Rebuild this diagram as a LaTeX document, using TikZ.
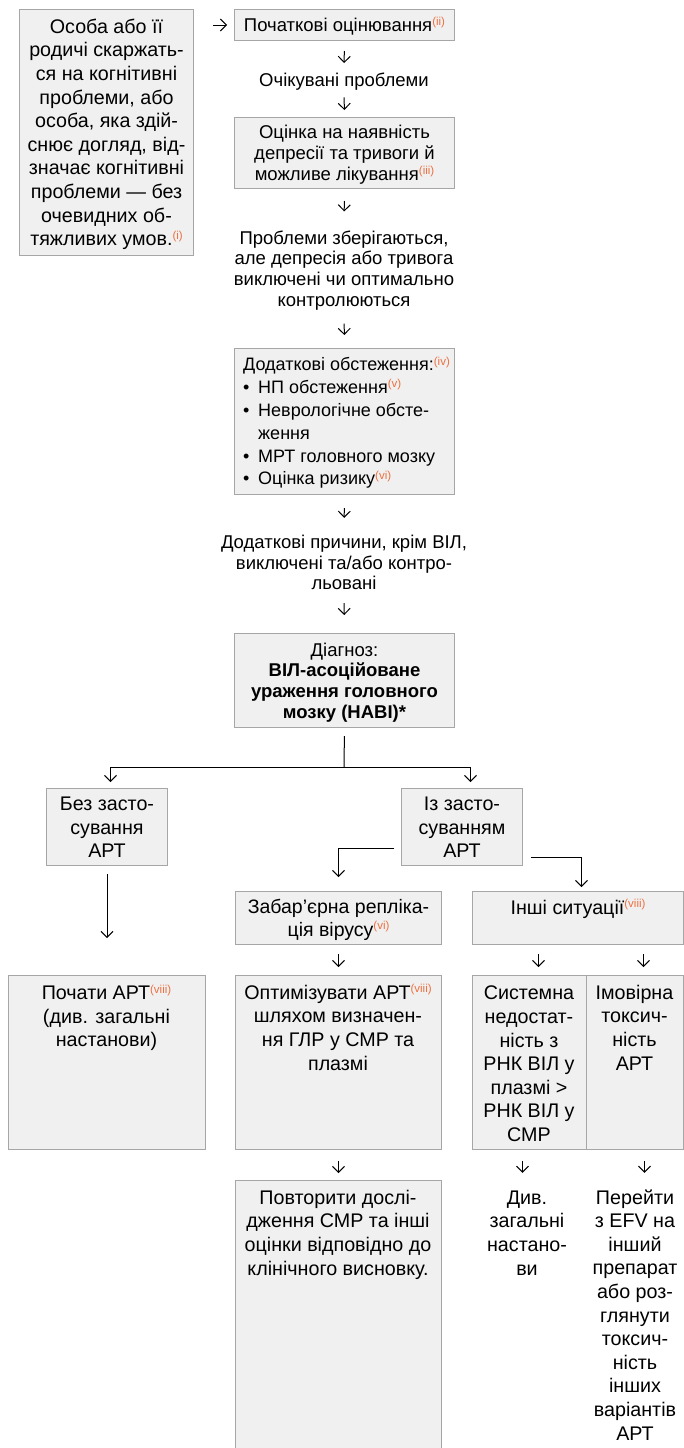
\documentclass[tikz,border=0pt]{standalone}
\usepackage{fontspec}
\setmainfont{Liberation Sans}
\usetikzlibrary{arrows.meta,calc}

\definecolor{boxfill}{RGB}{240,240,240}
\definecolor{boxline}{RGB}{166,166,166}
\definecolor{refc}{RGB}{238,112,64}

% font sizes (pt) and line spacing
\newcommand\fsmall{\fontsize{18.5}{20.7}\selectfont}
\newcommand\flist{\fontsize{18}{22.8}\selectfont}
\newcommand\flarge{\fontsize{19.7}{23.6}\selectfont}
\newcommand\fmid{\fontsize{19.5}{22.3}\selectfont}
% struts that keep the visible text centred on the node
\newcommand\TS{\rule{0pt}{0.97em}}
\newcommand\BS{\rule[-0.25em]{0pt}{0.25em}}
% orange reference marks
\newcommand\supref[1]{\raisebox{0.33em}{\fontsize{11.5}{11.5}\selectfont\color{refc}(#1)}}
\newcommand\bul{\makebox[15pt][l]{\textbullet}}

\begin{document}
\begin{tikzpicture}[x=1pt,y=-1pt,
  box/.style={draw=boxline, fill=boxfill, line width=1pt, inner sep=0pt, anchor=north west, align=center},
  txt/.style={inner sep=0pt, align=center},
  fs/.style={font=\fsmall},
  fl/.style={font=\flarge},
  conn/.style={draw=black, line width=1pt},
  arr/.style={conn, -{Straight Barb[length=6pt,width=12pt]}}
]
\useasboundingbox (0,0) rectangle (684,1448);
\clip (0,0) rectangle (684,1448);

% ---------- upper chain ----------
\node[box, fl, minimum width=174pt, minimum height=246pt] (complaint) at (19,9)
  {\TS Особа або її\\родичі скаржать-\\ся на когнітивні\\проблеми, або\\особа, яка здій-\\снює догляд, від-\\значає когнітивні\\проблеми — без\\очевидних об-\\тяжливих умов.\supref{i}\BS};

\node[box, fs, minimum width=220pt, minimum height=31pt] (initial) at (234,9)
  {\TS Початкові оцінювання\supref{ii}\BS};

\node[txt, fs] (expected) at (344,80) {\TS Очікувані проблеми\BS};

\node[box, fs, minimum width=220pt, minimum height=71pt] (depr) at (234,117)
  {\TS Оцінка на наявність\\депресії та тривоги й\\можливе лікування\supref{iii}\BS};

\node[txt, fs] (persist) at (344,268.5)
  {\TS Проблеми зберігаються,\\але депресія або тривога\\виключені чи оптимально\\контролюються\BS};

\node[box, minimum width=220pt, minimum height=146pt] (extra) at (234,348) {};
\node[txt, font=\flist, align=left, anchor=west] (extratext) at (243,421.5)
  {\TS Додаткові обстеження:\supref{iv}\\
   \bul НП обстеження\supref{v}\\
   \bul Неврологічне обсте-\\
   \hspace*{15pt}ження\\
   \bul МРТ головного мозку\\
   \bul Оцінка ризику\supref{vi}\BS};

\node[txt, fs] (causes) at (344,562.5)
  {\TS Додаткові причини, крім ВІЛ,\\виключені та/або контро-\\льовані\BS};

\node[box, fs, minimum width=220pt, minimum height=94pt] (diag) at (234,633)
  {\TS Діагноз:\\\textbf{ВІЛ-асоційоване}\\\textbf{ураження головного}\\\textbf{мозку (HABI)*}\BS};

% ---------- branches ----------
\node[box, fl, minimum width=121pt, minimum height=77pt] (noart) at (46,788)
  {\TS Без засто-\\сування\\АРТ\BS};
\node[box, fl, minimum width=121pt, minimum height=77pt] (withart) at (401,788)
  {\TS Із засто-\\суванням\\АРТ\BS};

\node[box, font=\fmid, minimum width=206pt, minimum height=53pt] (escape) at (235,891)
  {\TS Забар’єрна репліка-\\ція вірусу\supref{vi}\BS};
\node[box, minimum width=211pt, minimum height=53pt] (other) at (472,891) {};
\node[txt, fl] (othertext) at (578,907) {\TS Інші ситуації\supref{viii}\BS};

% ---------- actions ----------
\node[box, minimum width=197pt, minimum height=174pt] (start) at (8,975) {};
\node[txt, fl] (starttext) at (106.5,1016)
  {\TS Почати АРТ\supref{viii}\\(див. загальні\\настанови)\BS};

\node[box, minimum width=206pt, minimum height=174pt] (optim) at (235,975) {};
\node[txt, fl] (optimtext) at (338,1027.5)
  {\TS Оптимізувати АРТ\supref{viii}\\шляхом визначен-\\ня ГЛР у СМР та\\плазмі\BS};

\node[box, minimum width=114pt, minimum height=174pt] (sysfail) at (472,975) {};
\node[txt, fl] (sysfailtext) at (529,1063.5)
  {\TS Системна\\недостат-\\ність з\\РНК ВІЛ у\\плазмі >\\РНК ВІЛ у\\СМР\BS};

\node[box, minimum width=97pt, minimum height=174pt] (tox) at (586,975) {};
\node[txt, fl] (toxtext) at (634.5,1027.5)
  {\TS Імовірна\\токсич-\\ність\\АРТ\BS};

\node[box, minimum width=206pt, minimum height=269pt] (repeat) at (235,1180) {};
\node[txt, fl] (repeattext) at (338,1232.5)
  {\TS Повторити дослі-\\дження СМР та інші\\оцінки відповідно до\\клінічного висновку.\BS};

\node[txt, fl] (guide) at (527,1232.5)
  {\TS Див.\\загальні\\настано-\\ви\BS};

\node[txt, fl] (switch) at (635,1315)
  {\TS Перейти\\з EFV на\\інший\\препарат\\або роз-\\глянути\\токсич-\\ність\\інших\\варіантів\\АРТ\BS};

% ---------- connectors ----------
\draw[arr, shorten <=19pt, shorten >=7pt] (complaint.east |- initial.west) -- (initial.west);
\draw[arr, shorten <=10pt, shorten >=5.5pt] (initial.south) -- (expected.north);
\draw[arr, shorten <=6pt, shorten >=7pt] (expected.south) -- (depr.north);
\draw[arr, shorten <=12pt, shorten >=14.5pt] (depr.south) -- (persist.north);
\draw[arr, shorten <=12.5pt, shorten >=13pt] (persist.south) -- (extra.north);
\draw[arr, shorten <=13pt, shorten >=12.5pt] (extra.south) -- (causes.north);
\draw[arr, shorten <=8.5pt, shorten >=18pt] (causes.south) -- (diag.north);

\coordinate (split) at (344,767);
\draw[conn, shorten <=8pt] (diag.south) -- (split);
\draw[arr, shorten >=6pt] (split) -| ($(noart.north)+(3.5,0)$);
\draw[arr, shorten >=6pt] (split) -| ($(withart.north)+(8.5,0)$);

\draw[arr, shorten <=8pt, shorten >=37pt] (noart.south) -- (start.north);
\draw[arr, shorten <=7pt, shorten >=14pt] ($(withart.west)+(0,21.5)$) -| (escape.north);
\draw[arr, shorten <=8pt, shorten >=4pt] ($(withart.east)+(0,30.5)$) -| ($(other.north)+(3.5,0)$);

\draw[arr, shorten <=9pt, shorten >=8pt] (escape.south) -- (optim.north);
\draw[arr, shorten <=9pt, shorten >=8pt] ($(other.south -| sysfail.north)+(9,0)$) -- ($(sysfail.north)+(9,0)$);
\draw[arr, shorten <=9pt, shorten >=8pt] ($(other.south -| tox.north)+(8.5,0)$) -- ($(tox.north)+(8.5,0)$);

\draw[arr, shorten <=11pt, shorten >=7pt] (optim.south) -- (repeat.north);
\draw[arr, shorten <=11pt, shorten >=12pt] ($(sysfail.south)+(-7,0)$) -- ($(guide.north -| sysfail.south)+(-7,0)$);
\draw[arr, shorten <=11pt, shorten >=12pt] ($(tox.south)+(9.5,0)$) -- ($(switch.north -| tox.south)+(9.5,0)$);
\end{tikzpicture}
\end{document}
